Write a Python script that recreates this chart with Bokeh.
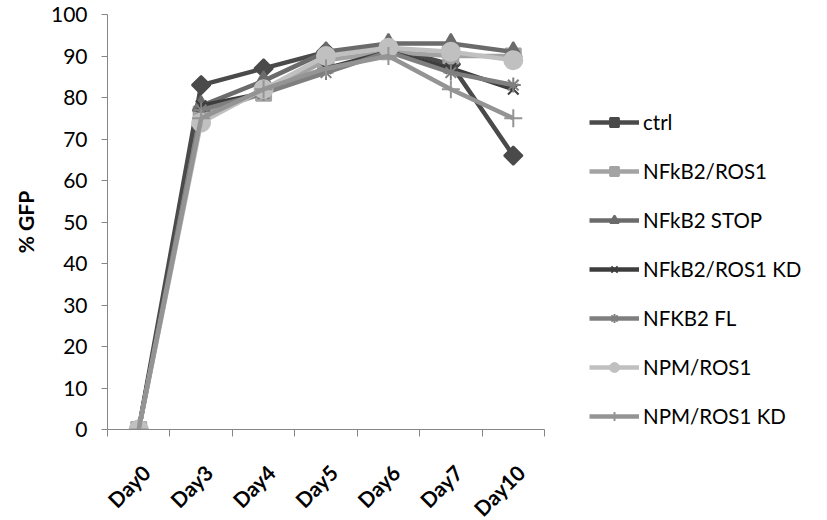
import math
from bokeh.plotting import figure
from bokeh.models import FixedTicker, Legend, LegendItem
from bokeh.embed import file_html
from bokeh.resources import INLINE

days = ["Day0", "Day3", "Day4", "Day5", "Day6", "Day7", "Day10"]
ctrl = [0, 83, 87, 91, 92, 88, 66]
nfkb2_ros1 = [0, 76, 81, 89, 91, 90, 90]
nfkb2_stop = [0, 78, 84, 91, 93, 93, 91]
nfkb2_ros1_kd = [0, 78, 81, 87, 91, 87, 82]
nfkb2_fl = [0, 77, 81, 86, 91, 86, 83]
npm_ros1 = [0, 74, 82, 90, 92, 91, 89]
npm_ros1_kd = [0, 75, 82, 87, 90, 82, 75]
y_ticks = [0, 10, 20, 30, 40, 50, 60, 70, 80, 90, 100]

FONT = "Lato"
xs = [i + 0.5 for i in range(len(days))]
label_pos = [x + 0.12 for x in xs]

p = figure(output_backend="svg", toolbar_location=None,
           frame_width=437, frame_height=415,
           x_range=(0, len(days)), y_range=(0, 100),
           min_border_left=107, min_border_top=14, min_border_bottom=75,
           min_border_right=267)
p.outline_line_color = None
p.xgrid.visible = False
p.ygrid.visible = False

series = [
    ("ctrl", ctrl, "#4a4a4a", "square", 13, math.pi / 4),
    ("NFkB2/ROS1", nfkb2_ros1, "#a3a3a3", "square", 15, 0),
    ("NFkB2 STOP", nfkb2_stop, "#6b6b6b", "triangle", 17, 0),
    ("NFkB2/ROS1 KD", nfkb2_ros1_kd, "#3d3d3d", "x", 15, 0),
    ("NFKB2 FL", nfkb2_fl, "#7f7f7f", "asterisk", 15, 0),
    ("NPM/ROS1", npm_ros1, "#c0c0c0", "circle", 18, 0),
    ("NPM/ROS1 KD", npm_ros1_kd, "#949494", "cross", 18, 0),
]

items = []
for name, vals, col, mk, sz, ang in series:
    l = p.line(xs, vals, line_color=col, line_width=4.5)
    s = p.scatter(xs, vals, marker=mk, size=sz, angle=ang,
                  fill_color=col, line_color=col, line_width=2)
    items.append(LegendItem(label=name, renderers=[l, s]))

legend = Legend(items=items, location=(45, 1))
legend.border_line_color = None
legend.background_fill_alpha = 0
legend.padding = 0
legend.margin = 0
legend.glyph_width = 50
legend.glyph_height = 22
legend.label_height = 22
legend.spacing = 25
legend.label_standoff = 4
legend.label_text_font = FONT
legend.label_text_font_size = "20.5px"
legend.label_text_color = "#000000"
p.add_layout(legend, "right")

# y axis
ya = p.yaxis[0]
ya.ticker = FixedTicker(ticks=y_ticks)
ya.axis_line_color = "#868686"
ya.major_tick_line_color = "#868686"
ya.major_tick_out = 6
ya.major_tick_in = 0
ya.minor_tick_line_color = None
ya.major_label_standoff = 14
ya.major_label_text_font = FONT
ya.major_label_text_font_size = "21px"
ya.major_label_text_color = "#000000"
ya.axis_label = "% GFP"
ya.axis_label_text_font = FONT
ya.axis_label_text_font_style = "bold"
ya.axis_label_text_font_size = "21px"
ya.axis_label_text_color = "#000000"
ya.axis_label_standoff = 10

# x axis
xa = p.xaxis[0]
xa.ticker = FixedTicker(ticks=label_pos, minor_ticks=list(range(len(days) + 1)))
xa.major_label_overrides = {x: d for x, d in zip(label_pos, days)}
xa.axis_line_color = "#868686"
xa.major_tick_line_color = None
xa.major_tick_out = 0
xa.major_tick_in = 0
xa.minor_tick_line_color = "#868686"
xa.minor_tick_out = 7
xa.minor_tick_in = 0
xa.major_label_orientation = math.pi / 4
xa.major_label_standoff = 32
xa.major_label_text_font = FONT
xa.major_label_text_font_style = "bold"
xa.major_label_text_font_size = "21px"
xa.major_label_text_color = "#000000"

open("out.html", "w").write(file_html(p, INLINE))
